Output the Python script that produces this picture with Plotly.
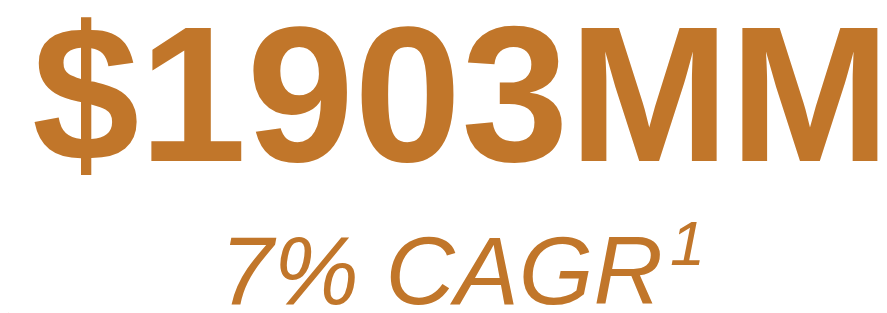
import plotly.graph_objects as go

# Data
market_size = [1903]
market_unit = ["MM"]
cagr_pct = [7]
footnote = ["1"]

COLOR = "#C1762A"
W, H = 887, 313

fig = go.Figure()
fig.update_layout(
    width=W, height=H,
    margin=dict(l=0, r=0, t=0, b=0),
    paper_bgcolor="white", plot_bgcolor="white",
    xaxis=dict(visible=False, range=[0, W]),
    yaxis=dict(visible=False, range=[H, 0]),
    showlegend=False,
)

main_text = f"${market_size[0]}{market_unit[0]}"
sub_text = f"{cagr_pct[0]}% CAGR"

# decorative circle edge peeking in at bottom-left corner
fig.add_shape(type="circle", xref="x", yref="y",
              x0=-126, x1=6, y0=266, y1=398,
              fillcolor=COLOR, line=dict(width=0), layer="below")

fig.add_annotation(
    x=453, y=86, xref="x", yref="y", text=f"<b>{main_text}</b>",
    showarrow=False, xanchor="center", yanchor="middle",
    font=dict(family="Liberation Sans, Arial", size=193, color=COLOR),
)
fig.add_annotation(
    x=433, y=262, xref="x", yref="y", text=f"<i>{sub_text}</i>",
    showarrow=False, xanchor="center", yanchor="middle",
    font=dict(family="Liberation Sans, Arial", size=96, color=COLOR),
)
fig.add_annotation(
    x=660, y=235, xref="x", yref="y", text=f"<i>{footnote[0]}</i>",
    showarrow=False, xanchor="left", yanchor="middle",
    font=dict(family="Liberation Sans, Arial", size=63, color=COLOR),
)

fig.write_html("out.html")
